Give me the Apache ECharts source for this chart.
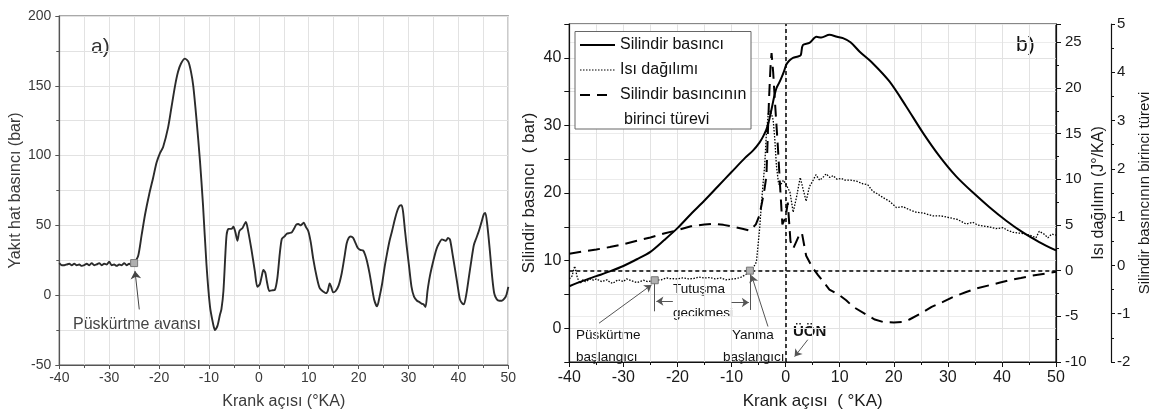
<!DOCTYPE html>
<html>
<head>
<meta charset="utf-8">
<script src="https://cdn.jsdelivr.net/npm/echarts@6/dist/echarts.min.js"></script>
<style>
  html, body { margin: 0; padding: 0; background: #fff; }
  #chart { width: 1153px; height: 415px; }
</style>
</head>
<body>
<div id="chart"></div>
<script>
// panel a) fuel line pressure
var fuelAngle = [-40,-39.5,-39,-38.5,-38,-37.5,-37,-36.5,-36,-35.5,-35,-34.5,-34,-33.5,-33,-32.5,-32,-31.5,-31,-30.5,-30,-29.5,-29,-28.5,-28,-27.5,-27,-26.5,-26,-25.5,-25,
  -24.2,-23.5,-22.8,-22,-21.2,-20.5,-19.8,-19.2,-18.2,-17.5,-16.8,-16.2,-15.6,-14.8,-14.1,-13.6,-13.15,-12.5,-11.8,-11.2,-10.5,-9.8,-9.2,-8.8,-8.3,-7.8,-7.5,-7.1,-6.5,-6.1,-5.5,-5.1,-4.7,-4.3,-3.9,-3.3,-2.6,-2.2,-1.45,-0.8,-0.3,0.2,0.6,0.9,1.3,1.6,2.1,2.6,3.2,3.7,4.2,4.6,5.1,5.6,6.1,6.6,7.1,7.5,7.9,8.4,8.7,9.0,9.4,9.9,10.4,10.9,11.6,12.2,12.9,13.4,13.8,14.2,14.5,14.9,15.4,16.0,16.6,17.1,17.6,18.0,18.4,18.9,19.3,19.8,20.3,20.9,21.3,21.7,22.2,22.6,23.1,23.7,24.2,24.7,25.2,25.7,26.2,26.7,27.3,27.8,28.2,28.6,28.9,29.3,29.7,30.1,30.6,31.1,31.7,32.2,32.6,33.0,33.4,33.8,34.3,35.0,35.6,36.1,36.7,37.1,37.5,37.9,38.3,38.8,39.3,39.8,40.3,40.8,41.1,41.6,42.1,42.6,43.1,43.6,44.1,44.6,45.1,45.4,45.8,46.3,46.8,47.2,47.7,48.2,48.7,49.2,49.6,50];
var fuelPressure = [23,21.5,21.5,22,22.5,21.5,22.5,21.5,22,21,21.5,22.5,21.5,23,21.5,22,23,21.5,22.5,22,24,21.5,22,21,22,21.5,23,21.5,22.5,21.5,23,
  28,43,58,72,84,95,102,106,120,135,150,160,166,169.5,167,160,150,126,96,65,22,-8,-20,-25,-22,-14,-10,3,42,47.5,47.5,49,45,39,46,48,52.5,47,32,17,6,8,14,18,16,10,3,3.5,3.8,12,30,40.3,42,44,44.5,45,48,50.5,51,50,51,52,49,46,38,26,13,5,2.6,1.5,3,8.4,6,2,3,7,15.5,26,37,41,42,41,38,34,32.5,32,29,24,15.5,7,-3,-8,-1,8,20,30,39,46,55,61,64,64.5,60,46,33,21,6,-1,-4,-5,-6,-6.5,-8.5,3,14,25,33,37,40,39.5,39,41,40,30,19,8,-3,-6,-6.5,1,13,25,36,41,46,52,58,59,50,32,12,1,-3,-4,-4,-2.5,0,6];

// panel b) cylinder pressure, heat release, pressure derivative
var presAngle = [-40,-37.5,-35,-32.5,-30,-27.5,-25,-22.5,-20,-17.5,-15,-12.5,-10,-7.5,-6,-4.8,-4.2,-3.55,-3.1,-2.6,-2.1,-1.7,-1.2,-0.8,-0.3,0.14,0.7,1.36,2.3,2.8,3.2,4.4,5.7,6.6,8.1,9.5,10.6,12,13.7,16.1,19.2,22.3,25.4,28.4,31.5,34.6,37.7,40.8,43.8,46.9,50];
var presValue = [6.2,7.0,7.7,8.4,9.2,10.2,11.3,13.0,14.8,16.9,18.9,21.0,23.1,25.2,26.3,27.5,28.3,29.4,30.6,32.4,34.3,35.5,36.3,37.0,38.0,39.0,39.6,40.0,40.2,40.4,41.9,42.2,43.1,43.0,43.4,43.1,42.9,42.3,40.9,39.2,36.5,32.8,28.9,25.5,22.5,20.1,17.9,15.9,14.2,12.75,11.5];

var heatAngle = [-40,-39.5,-39,-38.5,-38,-37.5,-37,-36,-35.5,-35,-34,-33,-32.5,-32,-31,-30,-29.4,-28.5,-27.5,-26.3,-25.5,-24.2,-23,-22,-21.4,-20,-19,-18,-17.1,-16,-15,-14,-13,-12,-11,-10.3,-9,-8.2,-7.3,-6.6,-6,-5.4,-4.8,-4.5,-4.2,-3.87,-3.55,-3.2,-2.8,-2.3,-2.0,-1.7,-1.3,-0.9,-0.4,0.2,0.8,1.4,2.0,2.7,3.2,3.8,4.4,5.0,5.6,6.3,6.9,7.5,8.2,8.8,9.5,10.3,11,12,13.1,14.3,15.2,16.1,17,18,19.2,20.5,21.7,22.8,24.1,25.5,27.2,28.7,30.3,31.8,33.4,34.6,35.5,36.4,37.6,38.9,40.2,41.1,42,43.3,44.5,45.5,46.3,46.9,47.8,48.5,49.2,50];
var heatValue = [-0.9,-0.6,0.5,-0.8,-1.4,-1.0,-1.2,-0.9,-1.05,-0.9,-1.2,-1.0,-1.25,-1.4,-1.0,-1.2,-0.9,-1.1,-1.3,-1.05,-1.2,-1.05,-1.0,-0.8,-0.87,-0.9,-0.8,-0.9,-0.87,-0.7,-0.8,-0.75,-0.9,-0.8,-1.0,-0.95,-0.85,-0.7,-0.4,-0.1,0.3,0.95,4.6,7.1,9.3,11.5,15.1,17.2,17.5,16.5,14.4,11.5,9.5,9.4,9.9,9.3,8.6,6.4,8.0,10.2,9.0,7.6,9.2,9.8,10.5,9.9,10.2,10.6,10.2,10.4,10.0,10.1,9.9,9.9,9.8,9.5,9.4,8.7,8.4,8.0,7.6,6.9,7.0,6.7,6.4,6.3,6.0,6.0,5.8,5.6,5.1,5.3,5.0,4.9,4.8,4.6,4.7,4.4,4.2,4.1,4.0,3.8,3.6,4.3,4.0,3.6,4.0,3.9];

var derivAngle = [-40,-37.5,-35,-32.5,-30,-27.5,-25,-22.5,-20,-17.5,-15,-13.4,-11.5,-10,-8,-6.6,-5.5,-4.8,-4.2,-3.9,-3.55,-3.07,-2.8,-2.6,-2.3,-2.0,-1.4,-1.1,-0.6,0,0.4,0.9,1.4,2.0,2.6,3.0,3.8,5,6,8.1,10,11.2,12.4,14.9,16.5,18,20,21.6,22.9,25.1,27,29,31,33.4,35.2,37.7,39.5,41.7,43.5,45.7,48,50];
var derivValue = [0.24,0.29,0.33,0.38,0.44,0.51,0.58,0.66,0.73,0.81,0.85,0.86,0.84,0.81,0.76,0.72,0.85,1.05,1.4,1.58,1.85,3.44,4.1,4.4,4.0,3.44,2.4,1.79,0.85,1.0,1.3,0.5,0.35,0.5,0.65,0.68,0.2,-0.05,-0.2,-0.5,-0.62,-0.72,-0.85,-1.02,-1.12,-1.17,-1.18,-1.17,-1.12,-0.99,-0.86,-0.76,-0.65,-0.55,-0.48,-0.41,-0.36,-0.3,-0.26,-0.21,-0.17,-0.13];

function pairs(xs, ys) {
  var out = [];
  for (var i = 0; i < xs.length; i++) out.push([xs[i], ys[i]]);
  return out;
}

var FONT = 'Liberation Sans, Arial, sans-serif';
var chart = echarts.init(document.getElementById('chart'), null, { renderer: 'canvas' });

var gridLine = { show: true, lineStyle: { color: '#e2e2e2', width: 1 } };

var option = {
  animation: false,
  backgroundColor: '#fff',
  textStyle: { fontFamily: FONT },
  grid: [
    { left: 59.3, top: 16, width: 449, height: 353.3, show: true, borderColor: '#555', borderWidth: 1.2, backgroundColor: 'transparent' },
    { left: 569.3, top: 24, width: 487.4, height: 340, show: true, borderColor: '#111', borderWidth: 1.2, backgroundColor: 'transparent' }
  ],
  xAxis: [
    {
      gridIndex: 0, type: 'value', min: -40, max: 50, interval: 10,
      axisLine: { onZero: false, lineStyle: { color: '#555', width: 1.2 } },
      axisTick: { length: 4, lineStyle: { color: '#555' } },
      minorTick: { show: true, splitNumber: 2, length: 3, lineStyle: { color: '#555' } },
      splitLine: gridLine,
      minorSplitLine: gridLine,
      axisLabel: { fontSize: 14, color: '#3a3a3a', margin: 6, fontFamily: FONT },
      name: 'Krank açısı (°KA)', nameLocation: 'middle', nameGap: 29,
      nameTextStyle: { fontSize: 16, color: '#3a3a3a', fontFamily: FONT }
    },
    {
      gridIndex: 1, type: 'value', min: -40, max: 50, interval: 10,
      axisLine: { onZero: false, lineStyle: { color: '#111', width: 1.2 } },
      axisTick: { length: 5, lineStyle: { color: '#111' } },
      minorTick: { show: true, splitNumber: 2, length: 3, lineStyle: { color: '#111' } },
      splitLine: gridLine,
      minorSplitLine: gridLine,
      axisLabel: { fontSize: 16, color: '#1a1a1a', margin: 8, fontFamily: FONT },
      name: 'Krank açısı  ( °KA)', nameLocation: 'middle', nameGap: 31,
      nameTextStyle: { fontSize: 17, color: '#1a1a1a', fontFamily: FONT }
    }
  ],
  yAxis: [
    {
      gridIndex: 0, type: 'value', min: -50, max: 200, interval: 50,
      axisLine: { show: true, onZero: false, lineStyle: { color: '#555', width: 1.2 } },
      axisTick: { show: true, length: 4, lineStyle: { color: '#555' } },
      minorTick: { show: true, splitNumber: 2, length: 3, lineStyle: { color: '#555' } },
      splitLine: gridLine,
      minorSplitLine: gridLine,
      axisLabel: { fontSize: 14, color: '#3a3a3a', margin: 8, fontFamily: FONT },
      name: 'Yakıt hat basıncı (bar)', nameLocation: 'middle', nameGap: 34, nameRotate: 90,
      nameTextStyle: { fontSize: 16, color: '#3a3a3a', fontFamily: FONT }
    },
    {
      gridIndex: 1, type: 'value', position: 'left', min: -5, max: 45, interval: 5,
      axisLine: { show: true, onZero: false, lineStyle: { color: '#111', width: 1.2 } },
      axisTick: { show: true, length: 5, lineStyle: { color: '#111' } },
      splitLine: gridLine,
      axisLabel: {
        fontSize: 16, color: '#1a1a1a', margin: 8, fontFamily: FONT,
        formatter: function (v) { return v % 10 === 0 ? String(v) : ''; }
      },
      name: 'Silindir basıncı  ( bar)', nameLocation: 'middle', nameGap: 31, nameRotate: 90,
      nameTextStyle: { fontSize: 17, color: '#1a1a1a', fontFamily: FONT }
    },
    {
      gridIndex: 1, type: 'value', position: 'right', min: -10, max: 27, interval: 5,
      axisLine: { show: true, onZero: false, lineStyle: { color: '#111', width: 1.2 } },
      axisTick: { show: true, length: 5, lineStyle: { color: '#111' } },
      minorTick: { show: true, splitNumber: 2, length: 3, lineStyle: { color: '#111' } },
      splitLine: { show: true, lineStyle: { color: '#ececec', width: 1 } },
      axisLabel: {
        fontSize: 15, color: '#1a1a1a', margin: 9, fontFamily: FONT,
        formatter: function (v) { return v % 5 === 0 ? String(v) : ''; }
      },
      name: 'Isı dağılımı (J°/KA)', nameLocation: 'middle', nameGap: 33, nameRotate: 90,
      nameTextStyle: { fontSize: 16, color: '#1a1a1a', fontFamily: FONT }
    },
    {
      gridIndex: 1, type: 'value', position: 'right', offset: 55, min: -2, max: 5, interval: 1,
      axisLine: { show: true, onZero: false, lineStyle: { color: '#111', width: 1.2 } },
      axisTick: { show: true, length: 4, lineStyle: { color: '#111' } },
      minorTick: { show: true, splitNumber: 2, length: 3, lineStyle: { color: '#111' } },
      splitLine: { show: false },
      axisLabel: { fontSize: 15, color: '#1a1a1a', margin: 6, fontFamily: FONT },
      name: 'Silindir basıncının birinci türevi', nameLocation: 'middle', nameGap: 26, nameRotate: 90,
      nameTextStyle: { fontSize: 15, color: '#1a1a1a', fontFamily: FONT }
    }
  ],
  series: [
    {
      name: 'Yakıt hat basıncı', type: 'line', xAxisIndex: 0, yAxisIndex: 0,
      data: pairs(fuelAngle, fuelPressure), showSymbol: false, smooth: 0.25,
      lineStyle: { color: '#2b2b2b', width: 1.9 },
      markPoint: {
        silent: true, symbol: 'rect', symbolSize: 7,
        itemStyle: { color: '#b0b0b0', borderColor: '#777', borderWidth: 1 },
        label: { show: false },
        data: [{ coord: [-25, 23] }]
      },
      markLine: {
        silent: true, symbol: ['none', 'arrow'], symbolSize: 8,
        lineStyle: { color: '#444', width: 1, type: 'solid' },
        label: { show: false },
        data: [[{ coord: [-23.97, -10.2] }, { coord: [-24.83, 17.4] }]]
      }
    },
    {
      name: 'Silindir basıncı', type: 'line', xAxisIndex: 1, yAxisIndex: 1,
      data: pairs(presAngle, presValue), showSymbol: false, smooth: 0.3,
      lineStyle: { color: '#000', width: 2 },
      markLine: {
        silent: true, symbol: ['none', 'arrow'], symbolSize: 7,
        lineStyle: { color: '#555', width: 1, type: 'solid' },
        label: { show: false },
        data: [
          [{ coord: [-34.5, 0.74] }, { coord: [-24.8, 6.4] }],
          [{ coord: [-3.26, 0.25] }, { coord: [-6.3, 7.8] }],
          [{ coord: [4.1, -1.7] }, { coord: [1.67, -4.2] }],
          [{ coord: [-20.85, 4.0] }, { coord: [-23.9, 4.0] }],
          [{ coord: [-10.0, 3.8] }, { coord: [-6.8, 3.8] }],
          [{ coord: [-24.2, 7.35], symbol: 'none' }, { coord: [-24.2, 2.5], symbol: 'none' }],
          [{ coord: [-6.6, 8.1], symbol: 'none' }, { coord: [-6.6, 2.7], symbol: 'none' }]
        ]
      }
    },
    {
      name: 'Isı dağılımı', type: 'line', xAxisIndex: 1, yAxisIndex: 2,
      data: pairs(heatAngle, heatValue), showSymbol: false,
      lineStyle: { color: '#000', width: 1.3, type: [1.5, 1.5] },
      markPoint: {
        silent: true, symbol: 'rect', symbolSize: 7,
        itemStyle: { color: '#b0b0b0', borderColor: '#777', borderWidth: 1 },
        label: { show: false },
        data: [{ coord: [-24.2, -1.05] }, { coord: [-6.6, 0] }]
      },
      markLine: {
        silent: true, symbol: 'none',
        lineStyle: { color: '#000', width: 1.5, type: [4, 3] },
        label: { show: false },
        data: [{ yAxis: 0 }]
      }
    },
    {
      name: 'Silindir basıncının birinci türevi', type: 'line', xAxisIndex: 1, yAxisIndex: 3,
      data: pairs(derivAngle, derivValue), showSymbol: false,
      lineStyle: { color: '#000', width: 2, type: [12, 7] },
      markLine: {
        silent: true, symbol: 'none',
        lineStyle: { color: '#000', width: 1.5, type: [4, 3] },
        label: { show: false },
        data: [{ xAxis: 0 }]
      }
    }
  ],
  graphic: [
    // panel labels
    { type: 'text', x: 91, y: 47, style: { text: 'a)', font: '21px ' + FONT, fill: '#333', verticalAlign: 'middle', textVerticalAlign: 'middle' } },
    { type: 'text', x: 1016, y: 45, style: { text: 'b)', font: '21px ' + FONT, fill: '#111', verticalAlign: 'middle', textVerticalAlign: 'middle' } },
    // panel a annotation
    { type: 'text', x: 73, y: 325, style: { text: 'Püskürtme avansı', font: '16px ' + FONT, fill: '#444', verticalAlign: 'middle', textVerticalAlign: 'middle' } },
    // panel b annotations
    { type: 'text', x: 699, y: 289, style: { text: 'Tutuşma', font: '13.5px ' + FONT, fill: '#111', align: 'center', textAlign: 'center', verticalAlign: 'middle', textVerticalAlign: 'middle' } },
    { type: 'text', x: 703, y: 313, style: { text: 'gecikmesi', font: '13.5px ' + FONT, fill: '#111', align: 'center', textAlign: 'center', verticalAlign: 'middle', textVerticalAlign: 'middle' } },
    { type: 'text', x: 576, y: 335, style: { text: 'Püskürtme', font: '13.5px ' + FONT, fill: '#111', verticalAlign: 'middle', textVerticalAlign: 'middle' } },
    { type: 'text', x: 576, y: 357, style: { text: 'başlangıcı', font: '13.5px ' + FONT, fill: '#111', verticalAlign: 'middle', textVerticalAlign: 'middle' } },
    { type: 'text', x: 732, y: 335, style: { text: 'Yanma', font: '13.5px ' + FONT, fill: '#111', verticalAlign: 'middle', textVerticalAlign: 'middle' } },
    { type: 'text', x: 723, y: 357, style: { text: 'başlangıcı', font: '13.5px ' + FONT, fill: '#111', verticalAlign: 'middle', textVerticalAlign: 'middle' } },
    { type: 'text', x: 793, y: 332, style: { text: 'ÜÖN', font: 'bold 15px ' + FONT, fill: '#111', verticalAlign: 'middle', textVerticalAlign: 'middle' } },
    // legend box
    { type: 'rect', shape: { x: 575, y: 31.5, width: 176, height: 97.5 }, style: { fill: '#fff', stroke: '#666', lineWidth: 1 }, z: 10 },
    { type: 'line', shape: { x1: 580, y1: 45, x2: 615, y2: 45 }, style: { stroke: '#000', lineWidth: 2 }, z: 11 },
    { type: 'line', shape: { x1: 580, y1: 70, x2: 615, y2: 70 }, style: { stroke: '#000', lineWidth: 1.2, lineDash: [1.5, 1.5] }, z: 11 },
    { type: 'line', shape: { x1: 580, y1: 95, x2: 610, y2: 95 }, style: { stroke: '#000', lineWidth: 2, lineDash: [10, 7] }, z: 11 },
    { type: 'text', x: 620, y: 45, z: 11, style: { text: 'Silindir basıncı', font: '16px ' + FONT, fill: '#111', verticalAlign: 'middle', textVerticalAlign: 'middle' } },
    { type: 'text', x: 620, y: 70, z: 11, style: { text: 'Isı dağılımı', font: '16px ' + FONT, fill: '#111', verticalAlign: 'middle', textVerticalAlign: 'middle' } },
    { type: 'text', x: 620, y: 95, z: 11, style: { text: 'Silindir basıncının', font: '16px ' + FONT, fill: '#111', verticalAlign: 'middle', textVerticalAlign: 'middle' } },
    { type: 'text', x: 624, y: 120, z: 11, style: { text: 'birinci türevi', font: '16px ' + FONT, fill: '#111', verticalAlign: 'middle', textVerticalAlign: 'middle' } }
  ]
};

chart.setOption(option);
</script>
</body>
</html>
